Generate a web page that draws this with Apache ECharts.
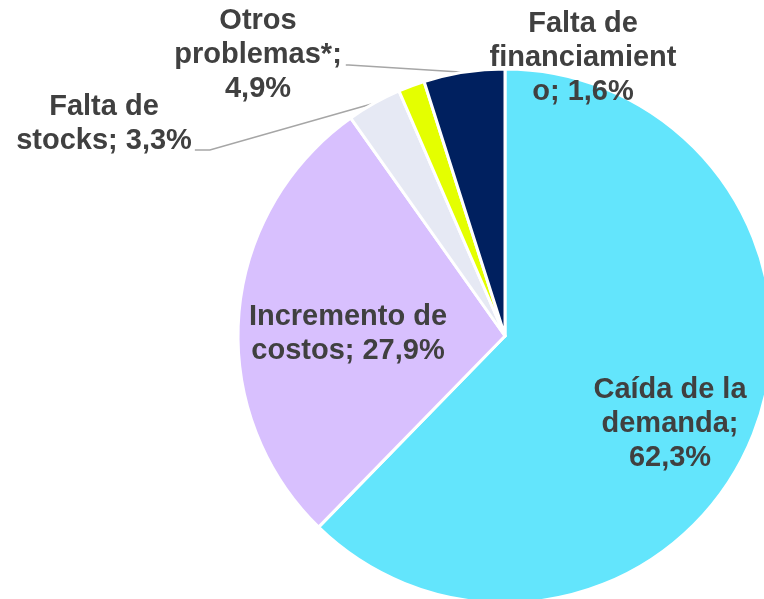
<!DOCTYPE html>
<html>
<head>
<meta charset="utf-8">
<script src="https://cdn.jsdelivr.net/npm/echarts@6/dist/echarts.min.js"></script>
<style>
  html, body { margin: 0; padding: 0; background: #fff; }
  #chart { width: 764px; height: 599px; }
</style>
</head>
<body>
<div id="chart"></div>
<script>
// datos del gráfico
var categorias = ['Caída de la\ndemanda', 'Incremento de\ncostos', 'Falta de\nstocks', 'Falta de\nfinanciamient\no', 'Otros\nproblemas*'];
var valores = [62.3, 27.9, 3.3, 1.6, 4.9];
var colores = ['#63E5FC', '#D8C0FE', '#E6E9F4', '#E4FF00', '#00205F'];
// separador entre nombre y porcentaje
var separadores = ['\n', ' ', ' ', ' ', '\n'];

// posición de cada etiqueta (centro) y si lleva línea guía
var posEtiquetas = [
  { x: 670, y: 424 },
  { x: 348, y: 334 },
  { x: 104, y: 124, linea: true },
  { x: 583, y: 58 },
  { x: 258, y: 55, linea: true }
];

var chart = echarts.init(document.getElementById('chart'));

var datos = categorias.map(function (c, i) {
  return {
    name: c,
    value: valores[i],
    itemStyle: { color: colores[i] },
    label: { position: i < 2 ? 'inside' : 'outside' },
    labelLine: { show: !!posEtiquetas[i].linea }
  };
});

chart.setOption({
  animation: false,
  series: [{
    type: 'pie',
    center: [505, 336],
    radius: 267,
    startAngle: 90,
    clockwise: true,
    avoidLabelOverlap: false,
    itemStyle: { borderColor: '#fff', borderWidth: 3 },
    label: {
      show: true,
      fontFamily: 'Liberation Sans, Arial, sans-serif',
      fontWeight: 'bold',
      fontSize: 29,
      lineHeight: 34,
      color: '#404040',
      align: 'center',
      formatter: function (p) {
        var v = p.value.toFixed(1).replace('.', ',');
        return p.name + ';' + separadores[p.dataIndex] + v + '%';
      }
    },
    labelLine: {
      lineStyle: { color: '#A6A6A6', width: 1.5 }
    },
    labelLayout: function (params) {
      var pos = posEtiquetas[params.dataIndex];
      var res = { x: pos.x, y: pos.y, align: 'center', verticalAlign: 'middle' };
      if (pos.linea && params.labelLinePoints) {
        var ini = params.labelLinePoints[0];
        var w = params.labelRect.width;
        var h = params.labelRect.height;
        if (params.dataIndex === 2) {
          var fin = [pos.x + w / 2 + 3, pos.y + h / 2 - 8];
          res.labelLinePoints = [ini, [fin[0] + 15, fin[1]], fin];
        } else {
          var fin2 = [pos.x + w / 2 + 4, pos.y + 10];
          res.labelLinePoints = [ini, [fin2[0] + 3, fin2[1]], fin2];
        }
      }
      return res;
    },
    data: datos
  }]
});
</script>
</body>
</html>
